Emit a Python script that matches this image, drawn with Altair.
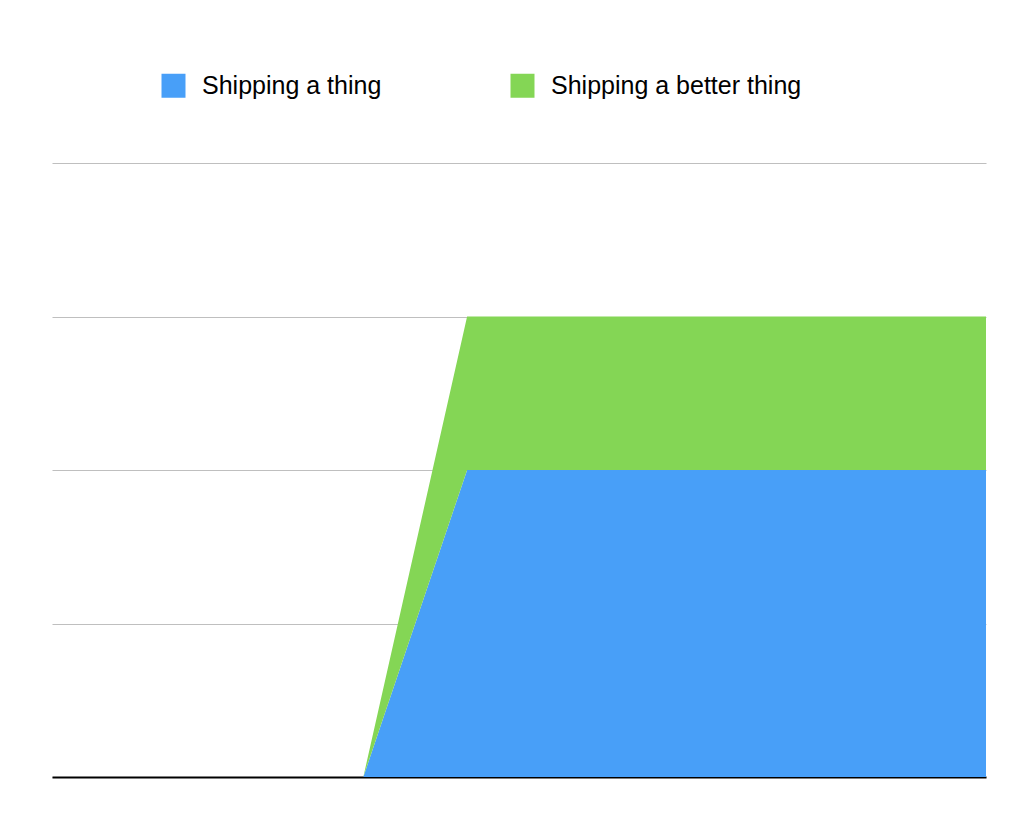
import altair as alt
import pandas as pd

x_vals = [0, 1, 2, 3, 4, 5, 6, 7, 8, 9]
thing = [0, 0, 0, 0, 2, 2, 2, 2, 2, 2]
better = [0, 0, 0, 0, 1, 1, 1, 1, 1, 1]
series = ["Shipping a thing", "Shipping a better thing"]
colors = ["#489FF8", "#84D655"]

rows = []
for i, x in enumerate(x_vals):
    rows.append({"x": x, "v": thing[i], "s": series[0], "k": 0})
    rows.append({"x": x, "v": better[i], "s": series[1], "k": 1})
df = pd.DataFrame(rows)

chart = alt.Chart(df).mark_area(opacity=1).encode(
    x=alt.X("x:Q", scale=alt.Scale(domain=[0, 9], nice=False),
            axis=alt.Axis(title=None, labels=False, ticks=False, grid=False,
                          domain=True, domainColor="#000000", domainWidth=2)),
    y=alt.Y("v:Q", stack="zero", scale=alt.Scale(domain=[0, 4], nice=False),
            axis=alt.Axis(title=None, labels=False, ticks=False, domain=False,
                          grid=True, values=[0, 1, 2, 3, 4],
                          gridColor="#BFBFBF", gridWidth=1)),
    color=alt.Color("s:N", scale=alt.Scale(domain=series, range=colors),
                    legend=alt.Legend(title=None, orient="none", direction="horizontal",
                                      columns=2, legendX=109, legendY=-90,
                                      symbolType="square", symbolSize=576,
                                      symbolStrokeWidth=0, labelFontSize=25,
                                      labelFont="Liberation Sans", labelColor="#000000",
                                      labelLimit=500, labelOffset=16,
                                      columnPadding=128)),
    order=alt.Order("k:Q", sort="ascending"),
).properties(
    width=934, height=614,
    autosize=alt.AutoSizeParams(type="none"),
    padding={"left": 44, "top": 155, "right": 38, "bottom": 29},
).configure_view(strokeWidth=0)

chart.save("out.html", embed_options={"renderer": "svg", "actions": False})
